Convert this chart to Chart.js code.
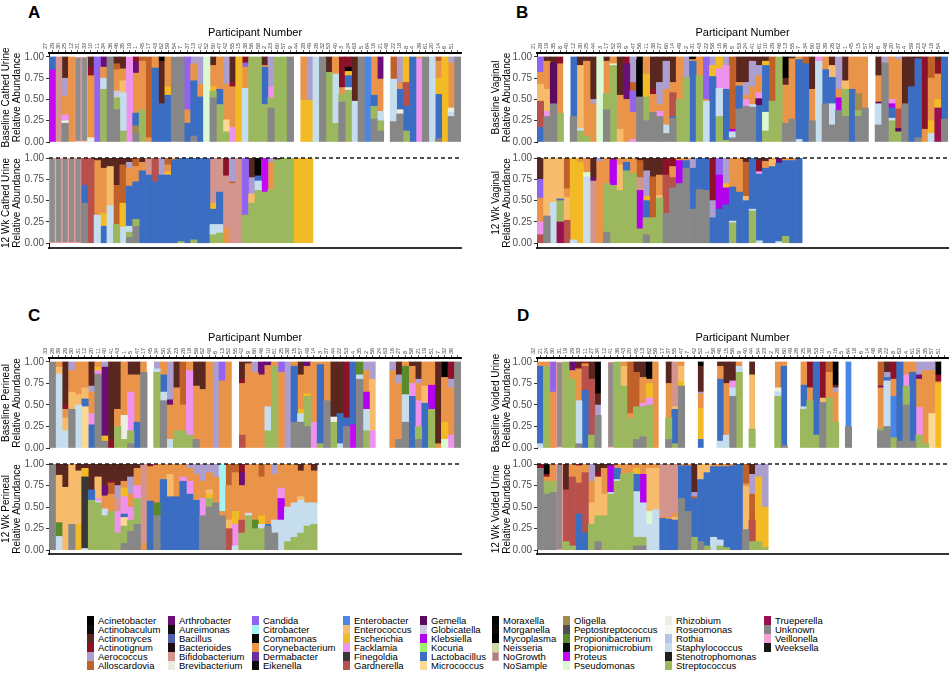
<!DOCTYPE html>
<html>
<head>
<meta charset="utf-8">
<script src="https://cdn.jsdelivr.net/npm/chart.js@4.4.1/dist/chart.umd.min.js"></script>
<style>
  body { margin: 0; background: #fff; width: 951px; height: 680px; position: relative; overflow: hidden;
         font-family: "Liberation Sans", Arial, sans-serif; }
  canvas { position: absolute; }
  .tag { position: absolute; font-weight: bold; font-size: 17px; line-height: 17px; color: #000; }
  .sw { position: absolute; width: 7px; height: 9px; box-sizing: border-box; }
  .lt { position: absolute; font-size: 9.5px; line-height: 9px; white-space: nowrap; color: #000; }
</style>
</head>
<body>
<div class="tag" style="left:28px;top:4px">A</div>
<div class="tag" style="left:516px;top:4px">B</div>
<div class="tag" style="left:28px;top:307px">C</div>
<div class="tag" style="left:517px;top:307px">D</div>

<script>
// genera in legend (alphabetical) order, with the one-letter code used in the bar strings
const genera = ['Acinetobacter','Actinobaculum','Actinomyces','Actinotignum','Aerococcus','Alloscardovia',
  'Arthrobacter','Aureimonas','Bacillus','Bacterioides','Bifidobacterium','Brevibacterium',
  'Candida','Citrobacter','Comamonas','Corynebacterium','Dermabacter','Eikenella',
  'Enterobacter','Enterococcus','Escherichia','Facklamia','Finegoldia','Gardnerella',
  'Gemella','Globicatella','Klebsiella','Kocuria','Lactobacillus','Micrococcus',
  'Moraxella','Morganella','Mycoplasma','Neisseria','NoGrowth','NoSample',
  'Oligella','Peptostreptococcus','Propionibacterium','Propionimicrobium','Proteus','Pseudomonas',
  'Rhizobium','Roseomonas','Rothia','Staphylococcus','Stenotrophomonas','Streptococcus',
  'Trueperella','Unknown','Veillonella','Weeksella'];
const codes = 'aIAQROHJhiBwYcWCDjeEXFfGMgKkLmxyqnNsotbuPpzlrTdSZUVv';
const colors = ['#000000','#0b0b0b','#5a2620','#8c1229','#ac9fd0','#c0612a',
  '#6b0e78','#101010','#4b5ea8','#1a0c12','#d4958f','#e9ecdc',
  '#9262f0','#a4f2f2','#050505','#e99449','#6a2d9e','#0a0a0a',
  '#4a86e8','#f6bc6c','#f2bb25','#ee92ee','#383838','#b8504c',
  '#5c0a5e','#cfc8e3','#b300ef','#9ff06a','#3b6ec2','#fad896',
  '#050505','#0a0a0a','#000000','#cbdba8','#8e8e8e','#ffffff',
  '#a08a4f','#4f4f4f','#5b8a2a','#080808','#c40af5','#d9f8d3',
  '#ebeee0','#f7f7f2','#b5c6e8','#c6ddee','#1f1f1f','#9cb85f',
  '#98104f','#878787','#f4a3d6','#151515'];

// participant numbers (top axis of each baseline panel)
const labelsA = ['27','29','30','25','12','31','33','10','11','34','36','46','35','19','1','45','17','43','62','59',
  '54','7','37','13','41','52','50','47','42','55','15','38','56','58','2','23','60','57','9','44',
  '28','49','26','32','53','40','3','24','63','5','64','16','21','48','22','18','8','4','39','61',
  '20','14','6','51'];
const labelsB = ['21','28','19','35','8','40','12','30','25','44','3','17','52','33','9','47','56','11','38','27',
  '60','14','49','2','31','43','22','58','16','36','5','53','24','41','61','10','29','46','13','55',
  '7','34','50','63','39','26','62','1','45','15','57','32','6','48','20','37','4','59','23','42',
  '18','54'];
const labelsC = ['33','26','39','29','30','31','12','20','11','40','41','43','1','5','47','17','45','34','50','54',
  '23','28','18','59','62','48','6','13','52','55','42','9','60','46','10','61','25','38','15','57',
  '49','14','3','37','44','22','53','4','35','2','56','24','63','16','27','8','58','21','19','51',
  '7','32','36'];
const labelsD = ['32','21','24','30','31','19','29','33','11','27','34','12','41','36','43','20','45','13','62','59',
  '17','37','55','47','7','42','52','1','58','46','15','56','9','40','44','54','23','2','28','60',
  '49','26','25','38','53','10','3','16','5','64','18','6','14','48','39','22','8','63','4','61',
  '50','35','57','51'];

// each bar: genus code + relative abundance (%)
const baseA = ['P85 L15','B100','U22 z3 F7 C22 R21 A25','C100','N100','N100','Q10 C73 z5 A12','Y100',
  'S62 T13 C13 H12','U100','U38 S14 g8 C25 O7 A8','S13 T45 E14 C14 A14','F100','U10 Q6 o9 L15 C47 H13',
  'S38 C57 O5','O95 C5','L87 C13','L45 A50 a5','L55 X10 C35','U100','U100','L22 C16 Y62','U7 L65 C20 R8',
  'L53 C15 R32','p100','U52 S8 X5 C25 A10','S44 L18 C38','S12 C42 m14 R32','Q5 F17 C48 A30','X100',
  'T63 Q7 C25 Y5','S100','S100','S44 L44 C2 A10','U40 S12 F13 R35','S100','S100','U100','s100',
  'X49 C51','X49 R51','T100','U100','S82 A18','S22 T58 C20','U47 S9 C8 Q36','S61 z3 L14 X5 W5 Q12',
  'T48 A52','U100','e100','U27 S15 L13 C45','U13 S12 T11 C38 H26','s100','U24 T50 O26','U33 z5 L24 C8 R30',
  'S13 L29 G28 X30','L100','F98 C2','U100','T100','U4 L52 X19 C20 O5','X100','U30 T5 C53 z5 R7','U100'];
const followA = ['N100','N100','N100','N100','N100','U47 L21 G32','G100','T33 C64 A3','L20 X15 C53 A12',
  'T44 E46 A10','S22 O46 A32','T19 X28 O45 A8','U7 S6 L47 T7 C21 R7 A5','U20 S8 L44 C18 O10','L85 C10 A5',
  'L80 B20','L72 G28','L80 R20','L80 X4 C8 O8','L98 C2','S2 L98','L100','S4 L96','L100','L100',
  'S10 T12 L18 X7 B53','S12 T10 L38 B40','C18 B61 Q21','B70 O2 R28','B100','S33 Y67','S47 E11 R19 A23',
  'S62 T11 L6 W21','S60 P40','S63 C32 R5','S98 A2','S100','S100','X100','X100','X100'];

const baseB = ['L17 G31 E20 C14 Y18','U30 F6 E26 C33 A5','U45 M48 A7','Q8 S34 C58','s100','U30 L70',
  'S13 T3 E74 A10','S7 C88 A5','C45 R5 A50','p100','U38 S19 C38 A5','S90 z2 C8','E15 C40 A45','Q8 C50 H42',
  'C32 F3 R30 Y25 O10','U53 W44 a3','U25 S28 X27 C20','U35 C21 Q6 A38','U30 F6 R26 C8 A30','U10 T10 C42 R33 A5',
  'U28 L2 G28 C12 A30','S50 C50','S76 R24','W3 L95 C2','S78 C22','T48 C2 Y50','L77 X13 R10','S30 T33 X14 F23',
  'S2 L60 F28 R10','U5 T7 K3 O85','U39 L27 C4 A30','U42 C5 F8 R15 A30','U41 T3 C21 R30 A5',
  'L43 F7 C20 M8 R12 A10','S13 p22 L55 X5 A5','S48 O52','S100','U22 A8 C45 a25','U27 C71 A2','T3 L94 C3',
  'L92 O8','U25 A38 C37','T95 F5','U45 L40 C15','U20 T25 L31 E14 A10','U37 K15 C10 R38','U30 S32 E10 A28',
  'L62 C38','U30 S7 o20 C43','U40 C60','s100','U20 T25 C31 M2 A22','U93 R7','S25 F5 T3 L12 C50 K5',
  'S12 G23 R3 C58 M4','U45 A55','L65 A35','U5 L93 A2','C15 Q85','T10 C50 X15 O25','Z40 C30 X10 Q15 A5','U27 L73'];
const followB = ['G10 F15 C28 Y22 A25','U32 E68','T48 E52','Z25 S25 L2 E48','G27 E27 O36 C10','T4 X96','X95 C5',
  'T78 p5 C17','H4 B73 A23','C96 R4','U13 S57 C30','S68 K30 A2','S62 E30 C8','S85 L10 C5','S82 C18',
  'S17 K45 O20 B15 A3','U10 S20 L20 X5 R30 A15','S30 O48 A22','S53 E3 C24 A20','U35 G45 Q20','U65 G12 C13 Q10',
  'U70 K27 C3','U88 L9 C3','U40 L48 R12','U63 L37','U62 L38','L30 R20 Q50','K40 L40 Y20','K20 L45 X5 R30',
  'S24 T2 L40 C34','L60 C40','L50 E5 O40 A5','S38 T2 L60','T3 L78 F3 Q13 A3','L88 C8 A4','L90 E8 C2',
  'T2 L92 H6','S8 L89 C3','L97 C3','L100'];

const baseC = ['U100','T86 E8 C6','T20 C10 E15 Q5 A50','U45 E20 C25 R10','T50 E12 C38','m48 L9 E13 C30',
  'L27 F13 C25 R7 A28','U86 F4 X4 C6','U8 H80 X6 R6','Q10 A90','S25 C20 A55','S10 C62 z28','U5 S15 F45 C20 A15',
  'L30 C55 A15','U88 C12','s100','S88 T4 R8','U55 T10 L20 C15','T10 C40 H6 R44','S20 C50 A30','S20 C30 O50',
  'S15 F75 C10','U10 C62 A28','C68 A32','C100','R100','C78 Y22','C100','s100','G15 C60 Q5 A20','C98 A2',
  'C88 R12','C85 H15','S20 T28 C48 H4','S95 C5','C88 Y12','R100','U30 L65 C5','U30 T10 X5 C40 A15',
  'U25 S35 X3 H5 C32','F30 C70','S5 L92 C3','U55 C45','S30 z6 A64','T5 L35 A60','U25 L10 Q65','L73 P27',
  'U80 T5 b15','S20 T25 K20 C25 R10','F20 E60 R20','s100','s100','C90 R10','U10 C65 R10 A15','U30 T32 b33 C5',
  'L60 F15 C20 A5','U10 S15 F30 C20 R5 A20','L52 E20 C28','S45 K28 C27','A95 C5','p10 C52 X20 a18',
  'C55 F15 Q20 R10','U100'];
const followC = ['U100','T16 b16 E55 A13','E73 A27','U30 E70','X30 E62 A8','T2 f83 X10 A5','S58 L12 A30',
  'S55 T2 E25 F3 A15','S40 T8 H12 C15 A25','Q2 S45 C20 O13 A20','S20 F25 B15 R15 A25','U8 S20 F20 L4 C8 X10 m10 A20',
  'U22 S13 F15 C15 R20 A15','U30 S30 C20 F15 A5','C8 B92','Q3 L57 C40','U40 b15 C45','L82 C18','L62 E26 C12',
  'L62 C38','L80 F5 C15','L65 F15 C15 R5','L58 C30 R12','U40 F20 C20 R20','U50 S10 E5 X5 C20 R10','U55 C30 R15',
  'U40 c55 C5','G25 E10 C40 O25','T5 F25 X15 C45 O10','Q10 S20 G15 C40 H15','S40 T3 C57','S25 b10 C65',
  'T5 S25 X10 C45 O15','U28 L2 C70','U20 T15 C53 R12','T35 K25 F12 C28','S10 T40 C50','S15 T40 C45',
  'S20 T38 E4 C30 A8','S28 T27 C45','S30 T25 C37 A8'];

const baseD = ['T5 L90 C5','S95 C5','C65 Y35','N100','S100','S80 C10 H10','U5 Q3 T50 C37 A5','Q2 G28 L67 C3',
  'S15 G65 A20','U38 R12 A13 a37','s100','N100','S100','S72 E23 C5','S35 C5 O60','S38 U10 O40 A12',
  'S35 U13 C30 F4 A18','S50 F8 X17 W20 C5','C100','s100','U10 S25 C40 A25','S5 L40 E3 B52','U72 E18 X5 C5',
  's100','s100','X36 L10 C17 R2 A30 a5','s100','s100','T8 L72 C15 A5','T15 C60 A25','U60 T10 F8 A22',
  'S88 T7 C5','s100','S22 E63 A15','s100','s100','s100','S60 T5 C30 z5','U3 L92 C5','s100','s100',
  'S45 T3 L25 C27','S55 C15 Q30','S15 L85','U53 E5 Q42','S58 C30 O12','S30 C35 R5 A3 a27','s100','U25 e75',
  's100','s100','s100','s100','U20 S3 C47 H2 O28','U25 T53 L4 R6 A12','e48 S12 C20 Q20','U8 L92',
  'U50 S22 F13 C15','U8 L80 C12','S15 F32 C33 R15 H5','S5 C85 R10','C50 m40 R10','X75 C2 a15 Q8','s100'];
const followD = ['U95 Q5','U65 S15 C5 a12 Q3','U67 S13 C20','N100','S10 G60 A30','S5 G80 C15','Q2 L42 G36 C20',
  'L20 G70 C10','S30 E25 C25 R20','U10 Q5 S30 E45 A10','S40 E25 C30 A5','S65 T2 K31 A2','S80 T2 L13 C5',
  'S88 C12','S90 C10','U5 S10 T53 L20 X7 C5','U5 S10 T40 K33 C12','T30 p15 E50 C5','T47 E48 C5','L37 B61 C2',
  'L36 B62 C2','L35 E3 B57 C5','U60 L38 C2','U45 L53 C2','S15 L45 R5 O2 A33','U10 L72 E18','S5 L85 E10',
  'T15 L82 C3','S5 T7 L85 C3','S3 L94 C3','L98 C2','L100','U24 E50 O23 C3','S10 G25 O30 R23 A12',
  'S10 X75 R15','S3 X47 R50'];

const yTicks = [0, 0.25, 0.5, 0.75, 1];

Chart.defaults.font.family = '"Liberation Sans", Arial, sans-serif';

// dashed line at 1.00 on the 12 week panels
const dashTop = {
  id: 'dashTop',
  afterDatasetsDraw(chart) {
    const y = chart.scales.y.getPixelForValue(1);
    const {left, right} = chart.chartArea;
    const ctx = chart.ctx;
    ctx.save();
    ctx.setLineDash([4, 3]);
    ctx.lineWidth = 1.3;
    ctx.strokeStyle = '#1a1a1a';
    ctx.beginPath();
    ctx.moveTo(left, y);
    ctx.lineTo(right, y);
    ctx.stroke();
    ctx.restore();
  }
};

function toDatasets(bars, n) {
  const data = genera.map(() => new Array(n).fill(null));
  bars.slice(0, n).forEach((bar, i) => {
    const parts = bar.split(' ');
    let total = 0;
    parts.forEach(p => total += Number(p.slice(1)));
    parts.forEach(p => {
      const g = codes.indexOf(p[0]);
      data[g][i] = (data[g][i] || 0) + Number(p.slice(1)) / total;
    });
  });
  // ggplot stacks the last factor level at the bottom
  const sets = [];
  for (let g = genera.length - 1; g >= 0; g--) {
    const noGrowth = genera[g] === 'NoGrowth';
    sets.push({
      label: genera[g],
      data: data[g],
      backgroundColor: colors[g],
      borderColor: noGrowth ? '#ef9a9a' : colors[g],
      borderWidth: noGrowth ? 1 : 0,
      borderSkipped: noGrowth ? false : 'start'
    });
  }
  return sets;
}

function drawPanel(geo, labels, bars, yTitle, isBase) {
  const canvas = document.createElement('canvas');
  const top = isBase ? geo.axisTop - 33 : geo.one - 7;
  const bottom = isBase ? geo.zero + 7 : geo.axisBot + 4;
  canvas.width = geo.right + 5 - geo.left;
  canvas.height = bottom - top;
  canvas.style.left = geo.left + 'px';
  canvas.style.top = top + 'px';
  document.body.appendChild(canvas);

  const yMin = isBase ? 0 : -(geo.axisBot - geo.zero) / (geo.zero - geo.one);
  const yMax = isBase ? (geo.zero - geo.axisTop) / (geo.zero - geo.oneTop) : 1;

  const xAxis = isBase ? {
    position: 'top', stacked: true, offset: true,
    grid: { display: true, offset: false, drawOnChartArea: false, drawTicks: true, tickLength: 3, color: '#333', lineWidth: 0.8 },
    border: { display: true, color: '#000', width: 2 },
    ticks: { autoSkip: false, minRotation: 90, maxRotation: 90, font: { size: 5.5 }, color: '#444', padding: 1 },
    title: { display: true, text: 'Participant Number', color: '#000', font: { size: 11 }, padding: { top: 6, bottom: 0 } },
    afterFit(s) { s.height = 33; }
  } : {
    position: 'bottom', stacked: true, offset: true,
    grid: { display: true, offset: false, drawOnChartArea: false, drawTicks: false },
    border: { display: true, color: '#333', width: 2 },
    ticks: { display: false },
    afterFit(s) { s.height = 2; }
  };

  new Chart(canvas, {
    type: 'bar',
    data: { labels: labels, datasets: toDatasets(bars, labels.length) },
    options: {
      responsive: false,
      animation: false,
      devicePixelRatio: 1,
      barPercentage: 1,
      categoryPercentage: 1,
      layout: { padding: { left: 0, right: 5, top: isBase ? 0 : 7, bottom: isBase ? 7 : 2 } },
      plugins: { legend: { display: false }, tooltip: { enabled: false } },
      scales: {
        x: xAxis,
        y: {
          stacked: true, min: yMin, max: yMax,
          afterBuildTicks(s) { s.ticks = yTicks.map(v => ({ value: v })); },
          ticks: { callback: v => v.toFixed(2), color: '#4d4d4d', font: { size: 10 }, padding: 2 },
          grid: { display: true, drawOnChartArea: false, drawTicks: true, tickLength: 3, color: '#333' },
          border: { display: true, color: '#000', width: 1 },
          title: { display: true, text: yTitle, color: '#000', font: { size: 10, lineHeight: 1.05 }, padding: { top: 1, bottom: 0 } },
          afterFit(s) { s.width = geo.yW; }
        }
      }
    },
    plugins: isBase ? [] : [dashTop]
  });
}

const geoA = { left: 0, yW: 49, right: 461, axisTop: 53, oneTop: 57, zero: 143, one: 157, zero2: 247, axisBot: 252 };
const geoB = { left: 490, yW: 47, right: 948, axisTop: 53, oneTop: 57, zero: 143, one: 157, zero2: 247, axisBot: 252 };
const geoC = { left: 0, yW: 49, right: 461, axisTop: 358, oneTop: 362, zero: 449, one: 463, zero2: 554, axisBot: 558 };
const geoD = { left: 490, yW: 47, right: 948, axisTop: 358, oneTop: 362, zero: 449, one: 463, zero2: 554, axisBot: 558 };

function follow(geo) {
  // the 12 week panel uses its own zero line
  return Object.assign({}, geo, { zero: geo.zero2 });
}

drawPanel(geoA, labelsA, baseA, ['Baseline Cathed Urine', 'Relative Abundance'], true);
drawPanel(follow(geoA), labelsA, followA, ['12 Wk Cathed Urine', 'Relative Abundance'], false);
drawPanel(geoB, labelsB, baseB, ['Baseline Vaginal', 'Relative Abundance'], true);
drawPanel(follow(geoB), labelsB, followB, ['12 Wk Vaginal', 'Relative Abundance'], false);
drawPanel(geoC, labelsC, baseC, ['Baseline Perineal', 'Relative Abundance'], true);
drawPanel(follow(geoC), labelsC, followC, ['12 Wk Perineal', 'Relative Abundance'], false);
drawPanel(geoD, labelsD, baseD, ['Baseline Voided Urine', 'Relative Abundance'], true);
drawPanel(follow(geoD), labelsD, followD, ['12 Wk Voided Urine', 'Relative Abundance'], false);

// legend block, 6 rows per column
const legendX = [87, 168, 252, 343, 420, 492, 563, 665, 764];
genera.forEach((g, i) => {
  const col = Math.floor(i / 6), row = i % 6;
  const y = 616 + row * 8.9;
  const sw = document.createElement('div');
  sw.className = 'sw';
  sw.style.left = legendX[col] + 'px';
  sw.style.top = y + 'px';
  sw.style.background = colors[i];
  if (g === 'NoGrowth') sw.style.border = '1px solid #ef9a9a';
  document.body.appendChild(sw);
  const t = document.createElement('div');
  t.className = 'lt';
  t.style.left = (legendX[col] + 11) + 'px';
  t.style.top = y + 'px';
  t.textContent = g;
  document.body.appendChild(t);
});
</script>
</body>
</html>
